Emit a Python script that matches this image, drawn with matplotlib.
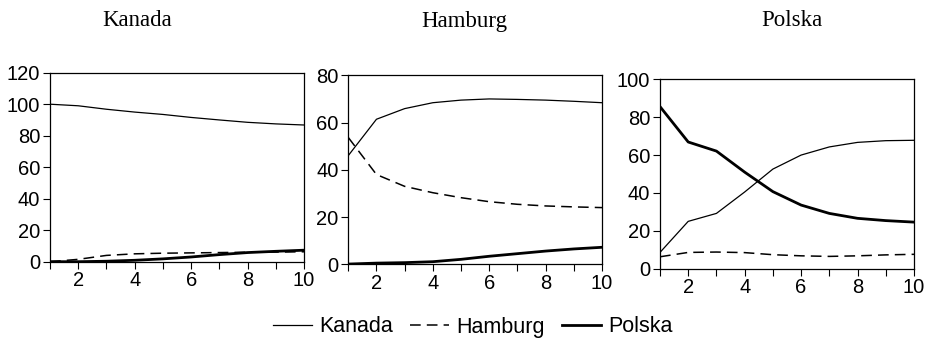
import numpy as np
import matplotlib
matplotlib.use('Agg')
import matplotlib.pyplot as plt

plt.rcParams['font.family'] = ['Liberation Sans', 'DejaVu Sans']

steps = np.arange(1, 11)
panels = ['Kanada', 'Hamburg', 'Polska']
series = ['Kanada', 'Hamburg', 'Polska']

# responses per panel: Kanada, Hamburg, Polska
kanada_panel = [
    [100, 99, 96.8, 95, 93.5, 91.6, 90, 88.5, 87.5, 86.8],
    [0, 1.5, 4, 5, 5.4, 5.6, 5.8, 6, 6.1, 6.3],
    [0, 0, 0.3, 0.9, 1.8, 3, 4.5, 5.8, 6.6, 7.3],
]
hamburg_panel = [
    [46, 61.4, 65.9, 68.4, 69.5, 70, 69.8, 69.5, 69, 68.4],
    [53.7, 38, 33, 30.3, 28.2, 26.5, 25.4, 24.7, 24.3, 24],
    [0.1, 0.5, 0.7, 1.1, 2.1, 3.4, 4.5, 5.6, 6.5, 7.2],
]
polska_panel = [
    [8.6, 25, 29.2, 40.5, 52.6, 60, 64.3, 66.7, 67.6, 67.8],
    [6.3, 8.6, 8.8, 8.5, 7.4, 6.8, 6.5, 6.8, 7.3, 7.6],
    [85.6, 66.9, 62.1, 51, 40.7, 33.6, 29.2, 26.6, 25.4, 24.6],
]
data = [kanada_panel, hamburg_panel, polska_panel]
ylims = [120, 80, 100]

styles = [dict(lw=0.9, ls='-'),
          dict(lw=1.1, ls=(0, (7, 4))),
          dict(lw=2.0, ls='-')]

fig = plt.figure(figsize=(9.25, 3.42), dpi=100)
boxes = [[0.0541, 0.2348, 0.2746, 0.5526],
         [0.3765, 0.2272, 0.2743, 0.5526],
         [0.7135, 0.2143, 0.2746, 0.5538]]
title_x = [137, 464, 792]

handles = []
for i, box in enumerate(boxes):
    ax = fig.add_axes(box)
    for j, vals in enumerate(data[i]):
        ln, = ax.plot(steps, vals, color='black', **styles[j])
        if i == 0:
            handles.append(ln)
    ax.set_xlim(1, 10)
    ax.set_ylim(0, ylims[i])
    ax.set_xticks([2, 4, 6, 8, 10])
    ax.set_xticks([1, 3, 5, 7, 9], minor=True)
    ax.set_yticks(np.arange(0, ylims[i] + 1, 20))
    ax.tick_params(which='both', direction='out', length=5, width=0.8,
                   labelsize=14.5, pad=2)
    for s in ax.spines.values():
        s.set_linewidth(0.9)
    fig.text(title_x[i] / 925, 1 - 21 / 342, panels[i], ha='center', va='center',
             fontsize=16.5, family='Liberation Serif')

fig.legend(handles, series, loc='center', bbox_to_anchor=(473 / 925, 1 - 327 / 342),
           ncol=3, frameon=False, fontsize=15.5, handlelength=1.8,
           handletextpad=0.35, columnspacing=0.8, borderaxespad=0)

plt.savefig('out.png', dpi=100)
